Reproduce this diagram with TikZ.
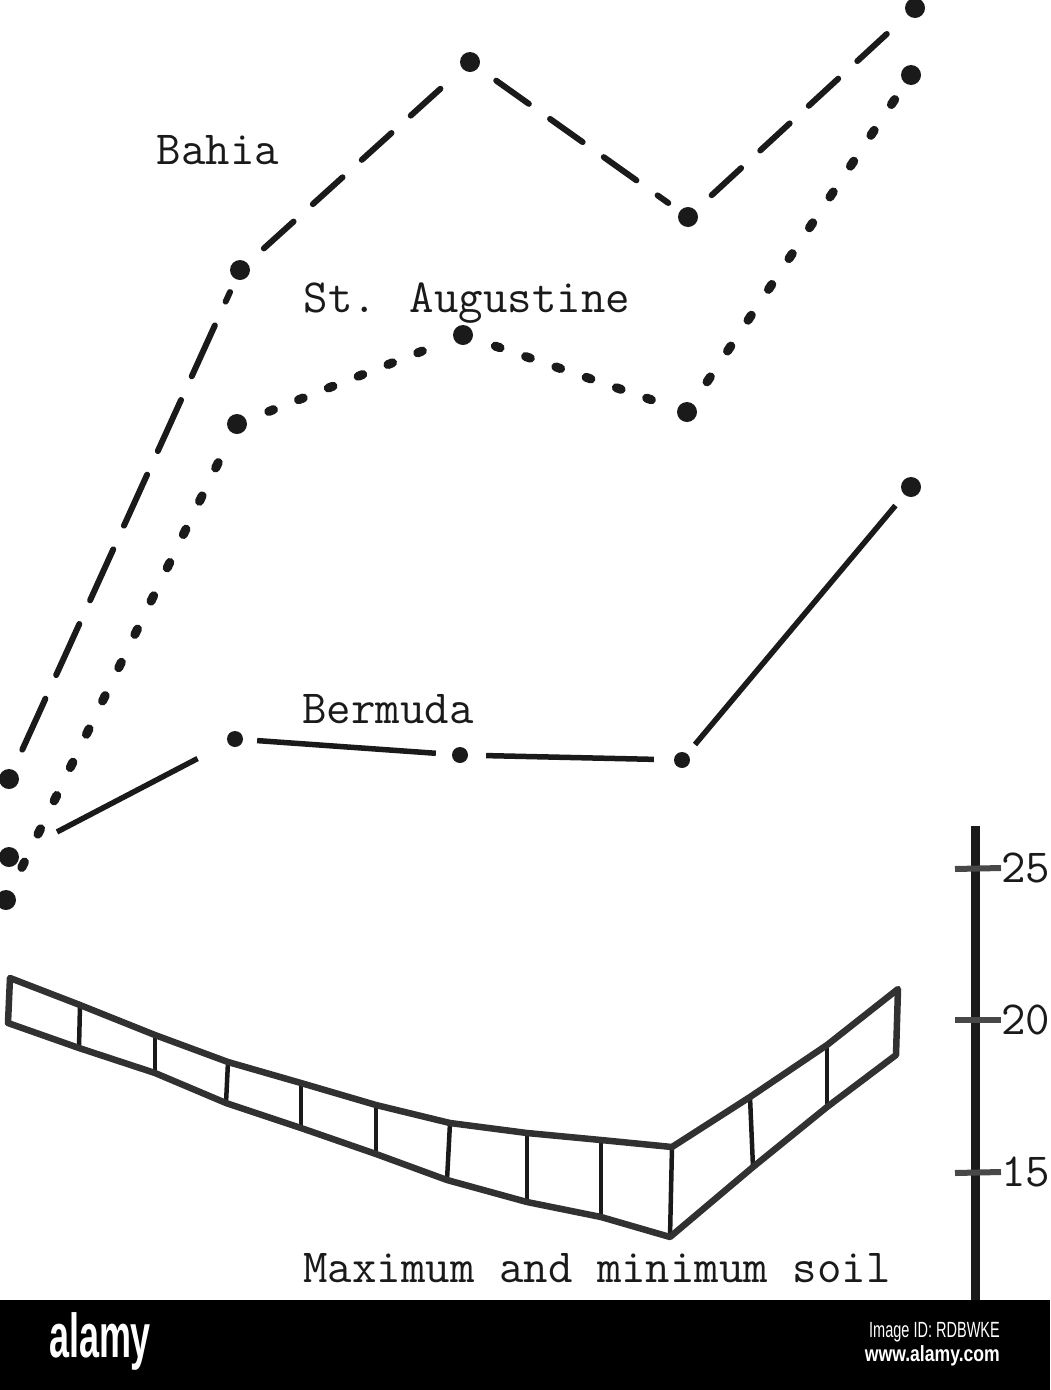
\documentclass[tikz,border=0pt]{standalone}
\usepackage{fontspec}
\setmainfont{Liberation Sans}
\definecolor{ink}{HTML}{1A1A1A}
\tikzset{
  pt/.style={circle,fill=ink,inner sep=0pt,minimum size=20pt},
  smallpt/.style={circle,fill=ink,inner sep=0pt,minimum size=16pt},
  dashline/.style={draw=ink,line width=6pt,line cap=round,dash pattern=on 40pt off 26pt,dash phase=-22pt,shorten >=14pt},
  longdash/.style={draw=ink,line width=6pt,line cap=round,dash pattern=on 56pt off 26pt,dash phase=-22pt,shorten >=14pt},
  dotline/.style={draw=ink,line width=9pt,line cap=round,dash pattern=on 5pt off 27pt,dash phase=-24pt,shorten >=14pt},
  longdot/.style={draw=ink,line width=9pt,line cap=round,dash pattern=on 6pt off 31pt,dash phase=-26pt,shorten >=14pt},
  solidline/.style={draw=ink,line width=5.5pt},
  band/.style={draw=ink!90,line width=6.5pt,line join=round},
  rung/.style={draw=ink,line width=4.5pt},
  axisline/.style={draw=ink,line width=9pt},
  tick/.style={draw=ink!80,line width=6pt},
  lab/.style={font=\ttfamily\addfontfeature{FakeBold=0.6}\fontsize{47.5}{47.5}\selectfont,text=ink,inner sep=0pt}
}
\begin{document}
\begin{tikzpicture}[x=1pt,y=-1pt]
\useasboundingbox (0,0) rectangle (1050,1390);
\fill[white] (0,0) rectangle (1050,1300);
\fill[black] (0,1300) rectangle (1050,1390);
% Bahia
\node[pt] (a1) at (9,779) {};
\node[pt] (a2) at (240,270) {};
\node[pt] (a3) at (470,62) {};
\node[pt] (a4) at (688,217) {};
\node[pt] (a5) at (915,8) {};
\path[longdash] (a1) -- (a2);
\path[dashline] (a2) -- (a3);
\path[dashline] (a3) -- (a4);
\path[dashline] (a4) -- (a5);
% St. Augustine
\node[pt] (c1) at (6,900) {};
\node[pt] (c2) at (237,424) {};
\node[pt] (c3) at (463,335) {};
\node[pt] (c4) at (687,412) {};
\node[pt] (c5) at (911,75) {};
\path[longdot] (c1) -- (c2);
\path[dotline] (c2) -- (c3);
\path[dotline] (c3) -- (c4);
\path[longdot] (c4) -- (c5);
% Bermuda
\node[pt] (b1) at (9,857) {};
\node[smallpt] (b2) at (235,739) {};
\node[smallpt] (b3) at (460,755) {};
\node[smallpt] (b4) at (682,760) {};
\node[pt] (b5) at (911,487) {};
\path[solidline,shorten <=44pt,shorten >=34pt] (b1) -- (b2);
\path[solidline,shorten <=14pt,shorten >=16pt] (b2) -- (b3);
\path[solidline,shorten <=18pt,shorten >=20pt] (b3) -- (b4);
\path[solidline,shorten <=12pt,shorten >=14pt] (b4) -- (b5);
% Labels
\node[lab] (lbahia) at (218,150) {Bahia};
\node[lab] (laug) at (467,303) {St. Augustine};
\node[lab] (lberm) at (388,709) {Bermuda};
\node[lab] (lsoil) at (597,1268) {Maximum and minimum soil};
% Band
\foreach \n/\x/\y in {0/10/978,1/80/1005,2/155/1035,3/228/1062,4/301/1083,5/376/1105,6/450/1123,7/527/1133,8/601/1140,9/672/1147,10/750/1097,11/827/1045,12/898/989}
  \coordinate (t\n) at (\x,\y);
\foreach \n/\x/\y in {0/8/1023,1/79/1048,2/155/1073,3/226/1103,4/301/1128,5/376/1154,6/447/1180,7/527/1202,8/601/1217,9/670/1237,10/753/1167,11/827/1107,12/896/1055}
  \coordinate (u\n) at (\x,\y);
\foreach \n in {1,...,11} \path[rung] (t\n) -- (u\n);
\path[band] (t0) -- (t1) -- (t2) -- (t3) -- (t4) -- (t5) -- (t6) -- (t7) -- (t8) -- (t9) -- (t10) -- (t11) -- (t12) -- (u12) -- (u11) -- (u10) -- (u9) -- (u8) -- (u7) -- (u6) -- (u5) -- (u4) -- (u3) -- (u2) -- (u1) -- (u0) -- cycle;
% Axis
\coordinate (ax0) at (975,826);
\coordinate (ax1) at (975,1300);
\path[axisline] (ax0) -- (ax1);
\node[lab,anchor=west] (l25) at (1001,868) {25};
\node[lab,anchor=west] (l20) at (1001,1020) {20};
\node[lab,anchor=west] (l15) at (1001,1172) {15};
\coordinate (k25) at (955,869);
\coordinate (k20) at (955,1020);
\coordinate (k15) at (955,1173);
\path[tick] (k25) -- (l25.west);
\path[tick] (k20) -- (l20.west);
\path[tick] (k15) -- (l15.west);
% Footer
\node[text=white,font=\bfseries\fontsize{62}{62}\selectfont,inner sep=0pt,xscale=0.58,transform shape] (logo) at (100,1341) {alamy};
\node[text=white,font=\fontsize{22}{22}\selectfont,inner sep=0pt,anchor=east,xscale=0.66,transform shape] (imgid) at (1000,1332) {Image ID: RDBWKE};
\node[text=white,font=\bfseries\fontsize{22}{22}\selectfont,inner sep=0pt,anchor=east,xscale=0.8,transform shape] (site) at (1000,1356) {www.alamy.com};
\end{tikzpicture}
\end{document}
